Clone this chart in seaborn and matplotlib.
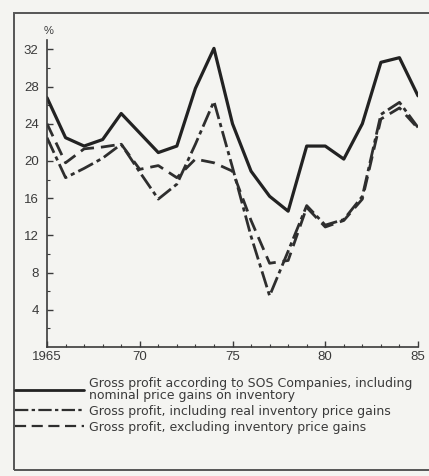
import numpy as np
import pandas as pd
import matplotlib
matplotlib.use("Agg")
import matplotlib.pyplot as plt
import seaborn as sns
from matplotlib.lines import Line2D
from matplotlib.patches import Rectangle

# valores (%)
years = list(range(1965, 1986))
nominal = [26.8, 22.5, 21.6, 22.3, 25.1, 23.0, 20.9, 21.6, 27.8, 32.1, 24.0,
           18.9, 16.2, 14.6, 21.6, 21.6, 20.2, 24.0, 30.6, 31.1, 27.0]
real_gains = [22.5, 18.2, 19.2, 20.3, 21.8, 18.8, 15.9, 17.5, 21.8, 26.4, 19.3,
              11.9, 5.5, 10.3, 15.2, 13.1, 13.7, 16.2, 25.0, 26.3, 23.6]
excluding = [24.0, 19.8, 21.3, 21.5, 21.8, 19.1, 19.5, 18.2, 20.2, 19.8, 18.9,
             13.6, 9.0, 9.3, 15.0, 12.9, 13.6, 15.9, 24.5, 25.7, 23.5]

labels = ["Gross profit according to SOS Companies, including\nnominal price gains on inventory",
          "Gross profit, including real inventory price gains",
          "Gross profit, excluding inventory price gains"]

df = pd.DataFrame({"year": years, "nominal": nominal,
                   "real": real_gains, "excl": excluding})

sns.set_style("ticks")
plt.rcParams["font.family"] = ["Liberation Sans", "DejaVu Sans"]

bg = "#f4f4f1"
ink = "#222222"
txt = "#3a3a3a"

fig = plt.figure(figsize=(4.29, 4.76), dpi=100, facecolor=bg)
ax = fig.add_axes([47 / 429, 1 - 347 / 476, 371 / 429, 307 / 476])
ax.set_facecolor(bg)

sns.lineplot(data=df, x="year", y="nominal", ax=ax, color=ink, lw=2.3)
sns.lineplot(data=df, x="year", y="real", ax=ax, color="#2e2e2e", lw=2.0,
             linestyle=(0, (6, 1.5, 1.5, 1.5)))
sns.lineplot(data=df, x="year", y="excl", ax=ax, color="#2e2e2e", lw=2.0,
             linestyle=(0, (5, 2.5)))

ax.set_xlim(1965, 1985)
ax.set_ylim(0, 33)
ax.set_xticks([1965, 1970, 1975, 1980, 1985])
ax.set_xticklabels(["1965", "70", "75", "80", "85"])
ax.set_xticks(range(1965, 1986), minor=True)
ax.set_yticks(range(4, 33, 4))
ax.set_yticks(range(2, 33, 4), minor=True)
ax.tick_params(axis="x", which="major", direction="in", length=4, width=1,
               color=txt, labelsize=9.5, labelcolor=txt, pad=3)
ax.tick_params(axis="y", which="major", direction="in", length=4, width=1,
               color=txt, labelsize=9.5, labelcolor=txt, pad=6)
ax.tick_params(axis="both", which="minor", direction="in", length=2, width=0.8,
               color=txt)
ax.set_xlabel("")
ax.set_ylabel("")
sns.despine(ax=ax)
for s in ["left", "bottom"]:
    ax.spines[s].set_color(txt)
    ax.spines[s].set_linewidth(1.2)
ax.text(1965.1, 33.4, "%", fontsize=8, color=txt, ha="center", va="bottom")

# legenda abaixo do gráfico
handles = [Line2D([], [], color=ink, lw=2.0),
           Line2D([], [], color="#2e2e2e", lw=1.6, linestyle=(0, (6, 1.5, 1.5, 1.5))),
           Line2D([], [], color="#2e2e2e", lw=1.6, linestyle=(0, (5, 2.5)))]
leg = fig.legend(handles, labels, loc="upper left",
                 bbox_to_anchor=(15 / 429, 1 - 377 / 476),
                 frameon=False, prop={"family": "DejaVu Sans", "size": 9.0},
                 handlelength=5.5, handletextpad=0.45,
                 labelspacing=0.22, borderaxespad=0, borderpad=0, labelcolor=txt)
for t in leg.get_texts():
    t.set_linespacing(0.9)

# moldura da figura
fig.patches.append(Rectangle((14 / 429, 6 / 476), 1.0, 1 - 19 / 476,
                             transform=fig.transFigure, fill=False,
                             ec="#555555", lw=1.4))

fig.savefig("out.png", dpi=100, facecolor=bg)
